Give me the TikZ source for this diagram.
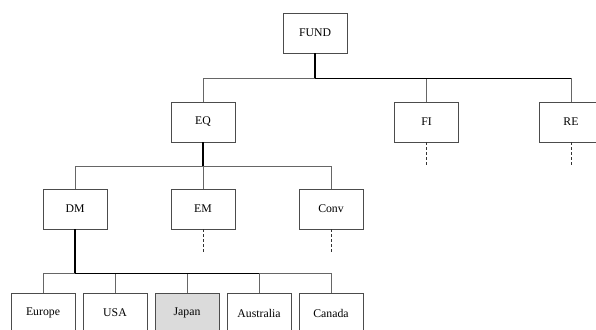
\documentclass[tikz,border=0pt]{standalone}
\usepackage{fontspec}
\setmainfont{Liberation Serif}
\begin{document}
\begin{tikzpicture}[x=1bp,y=-1bp,
  box/.style={draw=black!70,line width=0.7bp,minimum width=64bp,minimum height=40bp,inner sep=0pt,font=\fontsize{11.8}{14}\selectfont},
  bar/.style={draw=black!60,line width=0.8bp},
  stem/.style={draw=black,line width=1.5bp},
  dashstub/.style={draw=black!80,line width=1bp,dash pattern=on 3bp off 2bp}]
\useasboundingbox (0,0) rectangle (596,329);
\node[box] (fund) at (315,33) {FUND};
\node[box] (eq) at (203,122) {EQ};
\node[box] (fi) at (426.5,122) {FI};
\node[box] (re) at (571,122) {RE};
\node[box] (dm) at (75,209) {DM};
\node[box] (em) at (203,209) {EM};
\node[box] (conv) at (331,209) {Conv};
\node[box] (europe) at (43,313) {Europe};
\node[box] (usa) at (115,313) {USA};
\node[box,fill=black!14] (japan) at (187,313) {Japan};
\node[box] (australia) at (259,313) {Australia};
\node[box] (canada) at (331,313) {Canada};
\coordinate (b1) at (315,78);
\coordinate (b2) at (203,166);
\coordinate (b3) at (75,273);
\coordinate (fiend) at (426.5,166);
\coordinate (reend) at (571,166);
\coordinate (emend) at (203,253);
\coordinate (convend) at (331,253);
% level 1
\draw[bar] (eq.north) -- (eq.north |- b1) -- (re.north |- b1) -- (re.north);
\draw[bar] (fi.north |- b1) -- (fi.north);
\draw[draw=black,line width=0.8bp] (b1) -- (re.north |- b1);
\draw[stem] (fund.south) -- (b1);
% level 2
\draw[bar] (dm.north) -- (dm.north |- b2) -- (conv.north |- b2) -- (conv.north);
\draw[bar] (em.north |- b2) -- (em.north);
\draw[stem] (eq.south) -- (b2);
% level 3
\draw[bar] (europe.north) -- (europe.north |- b3) -- (canada.north |- b3) -- (canada.north);
\draw[bar] (usa.north |- b3) -- (usa.north);
\draw[bar] (japan.north |- b3) -- (japan.north);
\draw[bar] (australia.north |- b3) -- (australia.north);
\draw[draw=black,line width=0.8bp] (b3) -- (australia.north |- b3);
\draw[stem] (dm.south) -- (b3);
% dashed stubs
\draw[dashstub] (fi.south) -- (fiend);
\draw[dashstub] (re.south) -- (reend);
\draw[dashstub] (em.south) -- (emend);
\draw[dashstub] (conv.south) -- (convend);
\end{tikzpicture}
\end{document}
